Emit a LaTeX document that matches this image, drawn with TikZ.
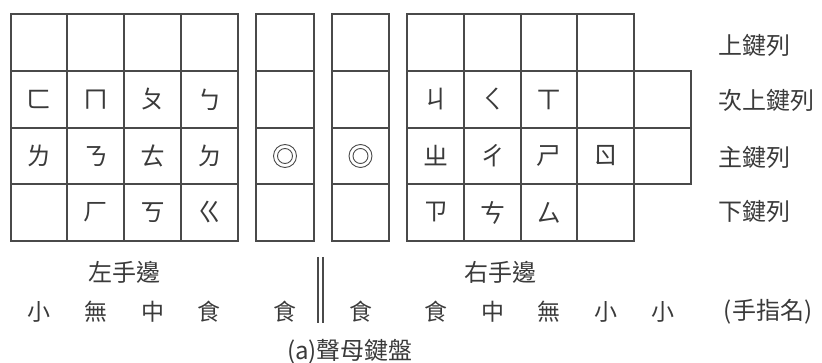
\documentclass[tikz,border=0pt]{standalone}
\usepackage{fontspec}
\setmainfont{Liberation Sans}
\newfontfamily\cjk{Noto Sans CJK TC}
\definecolor{ink}{HTML}{3A3A3A}
\definecolor{gridc}{HTML}{4A4A4A}
\tikzset{
  gridline/.style={draw=gridc, line width=1.1pt},
  key/.style={text=ink, font=\cjk\fontsize{25}{25}\selectfont, inner sep=0pt},
  lab/.style={text=ink, font=\cjk\fontsize{24}{24}\selectfont, inner sep=0pt},
  fing/.style={text=ink, font=\cjk\fontsize{23}{23}\selectfont, inner sep=0pt},
}
\begin{document}
\begin{tikzpicture}[x=1pt,y=-1pt]
\useasboundingbox (0,0) rectangle (822,363);
% left block
\draw[gridline] (11,14) rectangle (238,241);
\foreach \x in {67,124,181} \draw[gridline] (\x,14) -- (\x,241);
\foreach \y in {71,128,184} \draw[gridline] (11,\y) -- (238,\y);
% middle columns
\draw[gridline] (256,14) rectangle (314,241);
\draw[gridline] (332,14) rectangle (389,241);
\foreach \y in {71,128,184} {
  \draw[gridline] (256,\y) -- (314,\y);
  \draw[gridline] (332,\y) -- (389,\y);
}
% right block
\draw[gridline] (407,14) rectangle (634,241);
\foreach \x in {464,521,577} \draw[gridline] (\x,14) -- (\x,241);
\foreach \y in {71,128,184} \draw[gridline] (407,\y) -- (634,\y);
\draw[gridline] (634,71) -- (691,71) -- (691,184) -- (634,184);
\draw[gridline] (634,128) -- (691,128);
% left keys
\node[key] (k21) at (39,99.5) {ㄈ};
\node[key] (k22) at (95.5,99.5) {ㄇ};
\node[key] (k23) at (152.5,99.5) {ㄆ};
\node[key] (k24) at (209.5,99.5) {ㄅ};
\node[key] (k31) at (39,156) {ㄌ};
\node[key] (k32) at (95.5,156) {ㄋ};
\node[key] (k33) at (152.5,156) {ㄊ};
\node[key] (k34) at (209.5,156) {ㄉ};
\node[key] (k42) at (95.5,212.5) {ㄏ};
\node[key] (k43) at (152.5,212.5) {ㄎ};
\node[key] (k44) at (209.5,212.5) {ㄍ};
% middle double circles
\foreach \cx in {285,360.5} {
  \draw[gridc, line width=0.9pt] (\cx,156) circle (11.5);
  \draw[gridc, line width=0.9pt] (\cx,156) circle (7.5);
}
% right keys
\node[key] (r21) at (435.5,99.5) {ㄐ};
\node[key] (r22) at (492.5,99.5) {ㄑ};
\node[key] (r23) at (549,99.5) {ㄒ};
\node[key] (r31) at (435.5,156) {ㄓ};
\node[key] (r32) at (492.5,156) {ㄔ};
\node[key] (r33) at (549,156) {ㄕ};
\node[key] (r34) at (605.5,156) {ㄖ};
\node[key] (r41) at (435.5,212.5) {ㄗ};
\node[key] (r42) at (492.5,212.5) {ㄘ};
\node[key] (r43) at (549,212.5) {ㄙ};
% row labels
\node[lab, anchor=west] (l1) at (718,45) {上鍵列};
\node[lab, anchor=west] (l2) at (718,100) {次上鍵列};
\node[lab, anchor=west] (l3) at (718,157) {主鍵列};
\node[lab, anchor=west] (l4) at (718,211) {下鍵列};
% hands
\node[lab] (lh) at (124,272) {左手邊};
\node[lab] (rh) at (500,272) {右手邊};
% fingers
\node[fing] (f1) at (39,312) {小};
\node[fing] (f2) at (95.5,312) {無};
\node[fing] (f3) at (152.5,312) {中};
\node[fing] (f4) at (209,312) {食};
\node[fing] (f5) at (285,312) {食};
\node[fing] (f6) at (360.5,312) {食};
\node[fing] (f7) at (435.5,312) {食};
\node[fing] (f8) at (492.5,312) {中};
\node[fing] (f9) at (549,312) {無};
\node[fing] (f10) at (605.5,312) {小};
\node[fing] (f11) at (662.5,312) {小};
\node[lab] (fn) at (768,312) {(手指名)};
\draw[gridc, line width=1.2pt] (318,257) -- (318,323);
\draw[gridc, line width=1.2pt] (323,257) -- (323,323);
% caption
\node[lab] (cap) at (350,352) {(a)聲母鍵盤};
\end{tikzpicture}
\end{document}
